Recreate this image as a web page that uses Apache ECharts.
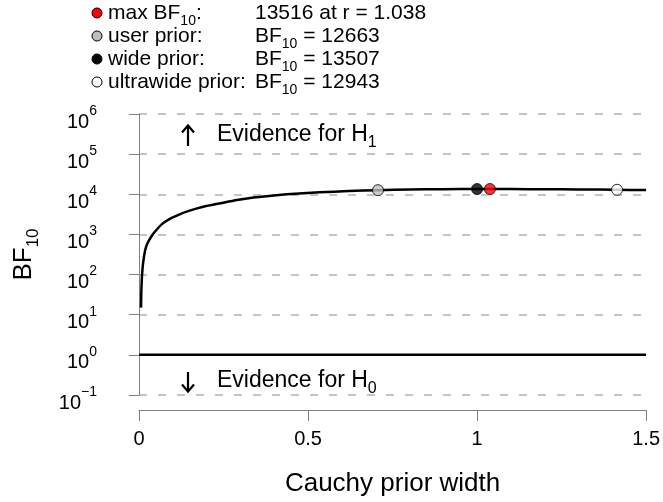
<!DOCTYPE html>
<html>
<head>
<meta charset="utf-8">
<script src="https://cdn.jsdelivr.net/npm/echarts@6/dist/echarts.min.js"></script>
<style>
html,body{margin:0;padding:0;background:#fff;}
#chart{width:663px;height:502px;}
</style>
</head>
<body>
<div id="chart"></div>
<script>
// Robustness curve: Cauchy prior width r vs BF10
const rValues = [0.006, 0.007, 0.0088, 0.012, 0.018, 0.025, 0.038, 0.05, 0.067, 0.09, 0.12, 0.145, 0.19, 0.242, 0.29, 0.339, 0.39, 0.437, 0.534, 0.62, 0.707, 0.8, 0.9, 1.0, 1.038, 1.1, 1.2, 1.3, 1.414, 1.5];
const bfValues = [15, 40, 89, 190, 400, 600, 930, 1250, 1780, 2400, 3150, 3800, 4900, 6000, 7200, 8300, 9200, 10000, 11200, 12000, 12663, 13100, 13380, 13507, 13516, 13490, 13380, 13200, 12943, 12720];

// Highlighted priors
const priorLabels = ['user prior', 'wide prior', 'ultrawide prior', 'max BF'];
const priorR = [0.707, 1.0, 1.414, 1.038];
const priorBF = [12663, 13507, 12943, 13516];

// Reference line BF10 = 1
const nullLineR = [0, 1.5];
const nullLineBF = [1, 1];

// Axis ticks
const xTicks = [0, 0.5, 1, 1.5];
const yMin = 0.1, yMax = 1e6;

// Legend rows
const legendNames = ['max BF', 'user prior:', 'wide prior:', 'ultrawide prior:'];
const legendValues = ['13516 at r = 1.038', '12663', '13507', '12943'];

const FONT = 'Liberation Sans, Arial, Helvetica, sans-serif';
const pointColors = ['#bebebe', '#000000', '#ffffff', '#ff0000'];
const legendColors = ['#ff0000', '#bebebe', '#000000', '#ffffff'];

const chart = echarts.init(document.getElementById('chart'), null, {renderer: 'canvas'});

const legendRowsY = [13, 36, 59, 82];
const graphics = [];
legendRowsY.forEach((y, i) => {
  graphics.push({
    type: 'circle', shape: {cx: 97, cy: y, r: 5},
    style: {fill: legendColors[i], stroke: '#000', lineWidth: 1}, z: 10
  });
  let nameText, valueText;
  if (i === 0) {
    nameText = '{t|max BF}{s|10}{t|:}';
    valueText = '{t|' + legendValues[0] + '}';
  } else {
    nameText = '{t|' + legendNames[i] + '}';
    valueText = '{t|BF}{s|10}{t| = ' + legendValues[i] + '}';
  }
  const rich = {
    t: {fontSize: 21, fontFamily: FONT, fill: '#000', lineHeight: 21, verticalAlign: 'top'},
    s: {fontSize: 14, fontFamily: FONT, fill: '#000', lineHeight: 14, padding: [11, 0, 0, 0], verticalAlign: 'top'}
  };
  graphics.push({
    type: 'text', x: 108, y: y - 10, z: 10,
    style: {text: nameText, rich: rich, textVerticalAlign: 'top'}
  });
  graphics.push({
    type: 'text', x: 255, y: y - 10, z: 10,
    style: {text: valueText, rich: rich, textVerticalAlign: 'top'}
  });
});

// Evidence annotations
const evRich = {
  t: {fontSize: 23, fontFamily: FONT, fill: '#000', lineHeight: 23, verticalAlign: 'top'},
  s: {fontSize: 16, fontFamily: FONT, fill: '#000', lineHeight: 16, padding: [12, 0, 0, 0], verticalAlign: 'top'}
};
graphics.push({type: 'text', x: 217, y: 123, z: 10, style: {text: '{t|Evidence for H}{s|1}', rich: evRich}});
graphics.push({type: 'text', x: 217, y: 369, z: 10, style: {text: '{t|Evidence for H}{s|0}', rich: evRich}});
// up arrow
graphics.push({type: 'polyline', z: 10, shape: {points: [[188, 146], [188, 126]]}, style: {stroke: '#000', lineWidth: 2.2, fill: null}});
graphics.push({type: 'polyline', z: 10, shape: {points: [[182, 132.5], [188, 125.5], [194, 132.5]]}, style: {stroke: '#000', lineWidth: 2.2, fill: null}});
// down arrow
graphics.push({type: 'polyline', z: 10, shape: {points: [[188, 372], [188, 391]]}, style: {stroke: '#000', lineWidth: 2.2, fill: null}});
graphics.push({type: 'polyline', z: 10, shape: {points: [[182, 384.5], [188, 391.5], [194, 384.5]]}, style: {stroke: '#000', lineWidth: 2.2, fill: null}});

const option = {
  animation: false,
  backgroundColor: '#fff',
  textStyle: {fontFamily: FONT},
  grid: {left: 139, right: 13, top: 114, bottom: 101, containLabel: false},
  xAxis: {
    type: 'value', min: xTicks[0], max: xTicks[xTicks.length - 1], interval: xTicks[1] - xTicks[0],
    offset: 15,
    axisLine: {show: true, onZero: false, lineStyle: {color: '#808080', width: 1}},
    axisTick: {show: true, length: 11, lineStyle: {color: '#808080', width: 1}},
    axisLabel: {fontSize: 20, color: '#000', margin: 19, fontFamily: FONT, showMinLabel: true, showMaxLabel: true,
      formatter: v => String(v)},
    splitLine: {show: false},
    name: 'Cauchy prior width', nameLocation: 'middle', nameGap: 61,
    nameTextStyle: {fontSize: 26, color: '#000', fontFamily: FONT}
  },
  yAxis: {
    type: 'log', logBase: 10, min: yMin, max: yMax, splitNumber: 7,
    offset: 26,
    axisLine: {show: true, lineStyle: {color: '#808080', width: 1}},
    axisTick: {show: true, length: 10, lineStyle: {color: '#808080', width: 1}},
    axisLabel: {
      margin: 16, color: '#000',
      formatter: v => '{b|10}{s|' + String(Math.round(Math.log10(v))).replace('-', '\u2212') + '}',
      rich: {
        b: {fontSize: 20, fontFamily: FONT, color: '#000', lineHeight: 20, padding: [8, 0, 0, 0], verticalAlign: 'top'},
        s: {fontSize: 14, fontFamily: FONT, color: '#000', lineHeight: 14, verticalAlign: 'top'}
      }
    },
    splitLine: {show: true, lineStyle: {color: '#c4c4c4', width: 2, type: [8, 11]}},
    name: '{b|BF}{s|10}', nameLocation: 'middle', nameGap: 76, nameRotate: 90,
    nameTextStyle: {
      rich: {
        b: {fontSize: 26, fontFamily: FONT, color: '#000', lineHeight: 26, verticalAlign: 'top'},
        s: {fontSize: 17, fontFamily: FONT, color: '#000', lineHeight: 17, padding: [14, 0, 0, 0], verticalAlign: 'top'}
      }
    }
  },
  graphic: graphics,
  series: [
    {
      type: 'line', data: nullLineR.map((r, i) => [r, nullLineBF[i]]),
      showSymbol: false, lineStyle: {color: '#000', width: 2.5}, z: 3, silent: true
    },
    {
      type: 'line', data: rValues.map((r, i) => [r, bfValues[i]]),
      showSymbol: false, smooth: 0.25, lineStyle: {color: '#000', width: 2.5}, z: 4, silent: true
    },
    {
      type: 'scatter', symbol: 'circle', symbolSize: 11, z: 5,
      data: priorR.map((r, i) => ({value: [r, priorBF[i]], name: priorLabels[i],
        itemStyle: {color: pointColors[i], borderColor: '#000', borderWidth: 1}}))
    }
  ]
};
chart.setOption(option);
</script>
</body>
</html>
